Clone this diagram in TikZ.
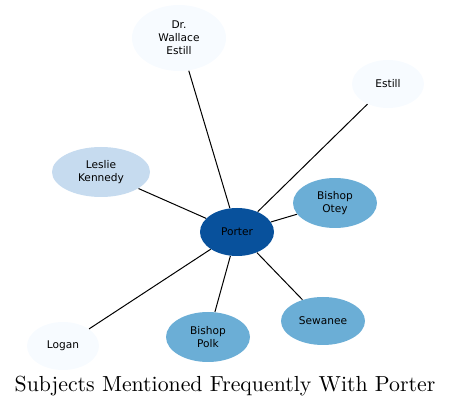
\documentclass[tikz,border=0pt]{standalone}
\usepackage{fontspec}
\newfontfamily\labelfont{DejaVu Sans}
\usetikzlibrary{shapes.geometric}
\definecolor{hub}{HTML}{08519C}
\definecolor{midblue}{HTML}{6BAED6}
\definecolor{paleblue}{HTML}{C6DBEF}
\definecolor{faintblue}{HTML}{F7FBFF}

\tikzset{
  subject/.style={ellipse,inner sep=0pt,align=center,
    font=\labelfont\fontsize{5.3}{6.5}\selectfont},
  link/.style={draw=black,line width=0.5pt}
}

\begin{document}
\begin{tikzpicture}[x=0.5pt,y=0.5pt]
      \useasboundingbox (0,0) rectangle (451,407);

      \node[subject,fill=hub,minimum width=37pt,minimum height=24pt] (porter) at (237,175) {Porter};
      \node[subject,fill=faintblue,minimum width=47pt,minimum height=33pt] (wallace) at (179,369) {Dr.\\Wallace\\Estill};
      \node[subject,fill=faintblue,minimum width=36pt,minimum height=24pt] (estill) at (388,323) {Estill};
      \node[subject,fill=paleblue,minimum width=49pt,minimum height=25pt] (kennedy) at (101,235) {Leslie\\Kennedy};
      \node[subject,fill=midblue,minimum width=42pt,minimum height=25pt] (otey) at (335,204) {Bishop\\Otey};
      \node[subject,fill=midblue,minimum width=42pt,minimum height=24pt] (sewanee) at (323,86) {Sewanee};
      \node[subject,fill=midblue,minimum width=42pt,minimum height=25pt] (polk) at (208,70) {Bishop\\Polk};
      \node[subject,fill=faintblue,minimum width=36pt,minimum height=24pt] (logan) at (63,61) {Logan};

      \foreach \other in {wallace,estill,kennedy,otey,sewanee,polk,logan}
        \draw[link] (porter) -- (\other);

      \node[anchor=base,font=\fontsize{10.9}{13}\selectfont] (title) at (225,15) {Subjects Mentioned Frequently With Porter};
\end{tikzpicture}
\end{document}
